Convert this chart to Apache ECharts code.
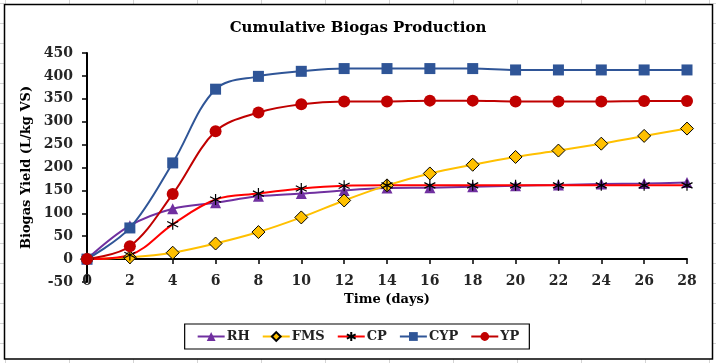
<!DOCTYPE html>
<html><head><meta charset="utf-8">
<script src="https://cdn.jsdelivr.net/npm/echarts@6/dist/echarts.min.js"></script>
<style>html,body{margin:0;padding:0;background:#fff}#c{width:716px;height:363px}</style>
</head><body><div id="c"></div>
<script>
const days = [0,2,4,6,8,10,12,14,16,18,20,22,24,26,28];
const rh  = [0,73,110,123,137,143,150,155,156,158,160,162,164,165,167];
const fms = [0,4,14,34,59,91,128,161,187,206,223,237,252,269,285];
const cp  = [0,9,76,130,143,154,160,161,161,161,161,161,161,161,161];
const cyp = [0,68,210,371,399,410,416,416,416,416,413,413,413,413,413];
const yp  = [0,28,142,279,320,338,344,344,346,346,344,344,344,345,345];
const yTicks = {min:-50, max:450, step:50};
const xTicks = {min:0, max:28, step:2};

const FONT = '"DejaVu Serif", serif';
const pairs = arr => days.map((d,i)=>[d, arr[i]]);
const star = 'path://M5 0 L5 10 M0.7 2.5 L9.3 7.5 M0.7 7.5 L9.3 2.5';

function mk(name, data, color, symbol, size, item){
  return {name, type:'line', data:pairs(data), smooth:0.35, xAxisIndex:0, yAxisIndex:0,
    symbol, symbolSize:size, showSymbol:true,
    lineStyle:{color, width:2}, itemStyle:Object.assign({color}, item||{})};
}

// Excel sheet gridlines outside the chart border
const g = [];
for (let x=5; x<=716; x+=64){
  g.push({type:'line', shape:{x1:x+0.5,y1:0,x2:x+0.5,y2:4}, style:{stroke:'#d4d4d4',lineWidth:1}, silent:true});
  g.push({type:'line', shape:{x1:x+0.5,y1:359,x2:x+0.5,y2:363}, style:{stroke:'#d4d4d4',lineWidth:1}, silent:true});
}
for (let y=3; y<=363; y+=20){
  g.push({type:'line', shape:{x1:0,y1:y+0.5,x2:4,y2:y+0.5}, style:{stroke:'#d4d4d4',lineWidth:1}, silent:true});
  g.push({type:'line', shape:{x1:713,y1:y+0.5,x2:716,y2:y+0.5}, style:{stroke:'#d4d4d4',lineWidth:1}, silent:true});
}
g.push({type:'rect', shape:{x:4.5,y:4.5,width:708,height:354.5}, style:{fill:null, stroke:'#000', lineWidth:1.5}, silent:true});

const chart = echarts.init(document.getElementById('c'), null, {renderer:'canvas'});
chart.setOption({
  animation:false,
  backgroundColor:'#fff',
  graphic: g,
  title:{text:'Cumulative Biogas Production', left:'center', top:16,
    textStyle:{fontFamily:FONT, fontWeight:'bold', fontSize:15, color:'#000'}},
  grid:{left:87, right:29, top:53, bottom:81},
  legend:{data:['RH','FMS','CP','CYP','YP'], left:'center', top:324,
    borderColor:'#000', borderWidth:1.2, padding:[6,10,6,12], itemGap:12,
    itemWidth:27, itemHeight:11,
    textStyle:{fontFamily:FONT, fontWeight:'bold', fontSize:13, color:'#222', padding:[0,0,0,-3]}},
  xAxis:[
    {type:'value', min:xTicks.min, max:xTicks.max, interval:xTicks.step, position:'bottom',
      name:'Time (days)', nameLocation:'middle', nameGap:9,
      nameTextStyle:{fontFamily:FONT, fontWeight:'bold', fontSize:13, color:'#000'},
      axisLine:{show:false, onZero:false}, axisTick:{show:false}, splitLine:{show:false},
      axisLabel:{margin:-8, fontFamily:FONT, fontWeight:'bold', fontSize:14, color:'#262626'}},
    {type:'value', min:xTicks.min, max:xTicks.max, interval:xTicks.step, position:'top',
      axisLine:{show:true, onZero:true, lineStyle:{color:'#000', width:2}},
      axisTick:{show:true, inside:true, length:5, lineStyle:{color:'#000', width:1.5}},
      axisLabel:{show:false}, splitLine:{show:false}}
  ],
  yAxis:{type:'value', min:yTicks.min, max:yTicks.max, interval:yTicks.step,
    name:'Biogas Yield (L/kg VS)', nameLocation:'middle', nameGap:38,
    nameTextStyle:{fontFamily:FONT, fontWeight:'bold', fontSize:13, color:'#000'},
    axisLine:{show:true, onZero:false, lineStyle:{color:'#000', width:2}},
    axisTick:{show:true, length:5, lineStyle:{color:'#000', width:1.5}},
    splitLine:{show:false},
    axisLabel:{margin:14, fontFamily:FONT, fontWeight:'bold', fontSize:14, color:'#262626'}},
  series:[
    mk('RH', rh, '#7030A0', 'triangle', 11),
    mk('FMS', fms, '#FFC000', 'diamond', 13, {borderColor:'#000', borderWidth:1}),
    mk('CP', cp, '#FF0000', star, 11, {color:'#000', borderColor:'#000', borderWidth:1.2}),
    mk('CYP', cyp, '#2F5597', 'rect', 11),
    mk('YP', yp, '#C00000', 'circle', 12)
  ]
});
</script></body></html>
